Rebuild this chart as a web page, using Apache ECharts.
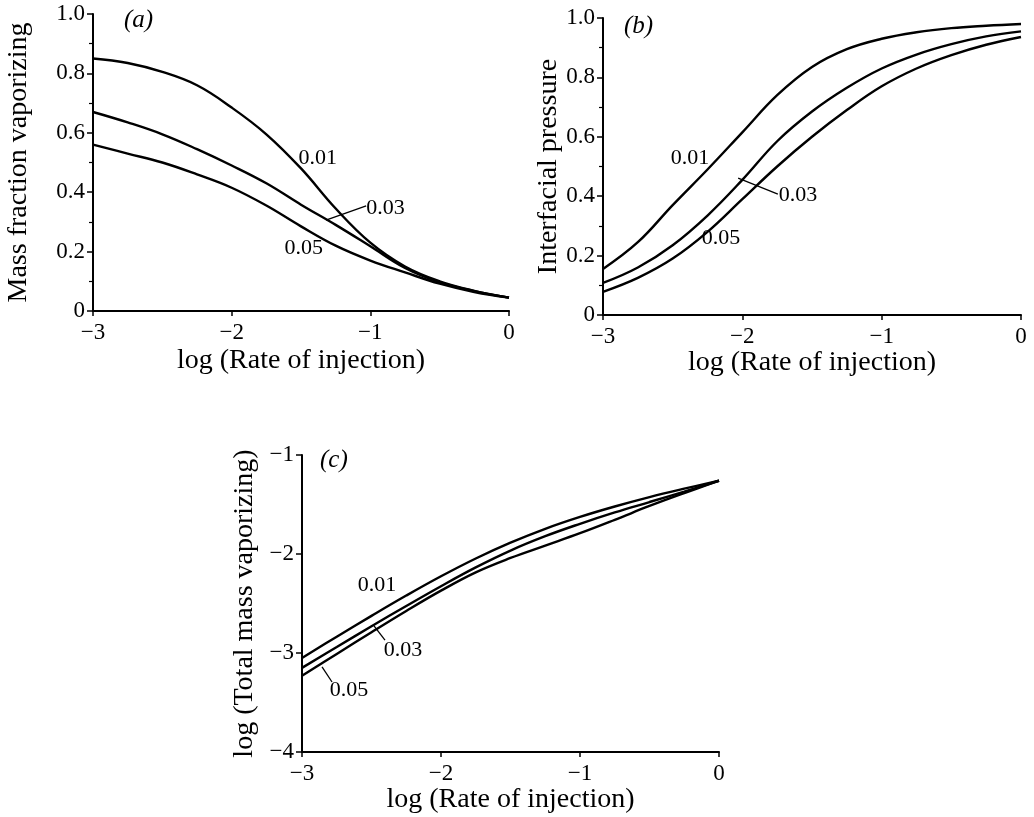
<!DOCTYPE html>
<html>
<head>
<meta charset="utf-8">
<script src="https://cdn.jsdelivr.net/npm/echarts@6/dist/echarts.min.js"></script>
<style>
html,body{margin:0;padding:0;background:#fff;}
#chart{width:1034px;height:817px;}
</style>
</head>
<body>
<div id="chart"></div>
<script>
// log(Rate of injection)
const xLog = [-3, -2.75, -2.5, -2.25, -2, -1.75, -1.5, -1.25, -1, -0.75, -0.5, -0.25, 0];

// (a) Mass fraction vaporizing
const a01 = [0.85, 0.835, 0.805, 0.76, 0.685, 0.595, 0.48, 0.345, 0.23, 0.15, 0.10, 0.068, 0.045];
const a03 = [0.67, 0.635, 0.595, 0.545, 0.49, 0.43, 0.358, 0.29, 0.218, 0.145, 0.097, 0.067, 0.045];
const a05 = [0.56, 0.53, 0.50, 0.46, 0.415, 0.355, 0.285, 0.22, 0.17, 0.13, 0.092, 0.064, 0.045];

// (b) Interfacial pressure
const b01 = [0.155, 0.245, 0.37, 0.49, 0.615, 0.74, 0.835, 0.895, 0.93, 0.952, 0.966, 0.974, 0.98];
const b03 = [0.108, 0.16, 0.235, 0.335, 0.455, 0.585, 0.685, 0.765, 0.83, 0.877, 0.912, 0.938, 0.955];
const b05 = [0.078, 0.125, 0.19, 0.28, 0.39, 0.50, 0.60, 0.69, 0.77, 0.83, 0.875, 0.91, 0.936];

// (c) log(Total mass vaporizing)
const c01 = [-3.05, -2.835, -2.625, -2.42, -2.225, -2.045, -1.885, -1.745, -1.625, -1.52, -1.425, -1.34, -1.26];
const c03 = [-3.15, -2.94, -2.73, -2.525, -2.325, -2.135, -1.965, -1.82, -1.695, -1.58, -1.475, -1.37, -1.26];
const c05 = [-3.23, -3.01, -2.79, -2.575, -2.37, -2.185, -2.04, -1.915, -1.79, -1.655, -1.515, -1.385, -1.26];

// curve parameter labels
const paramNames = ['0.01', '0.03', '0.05'];
const panelNames = ['(a)', '(b)', '(c)'];
const yNames = ['Mass fraction vaporizing', 'Interfacial pressure', 'log (Total mass vaporizing)'];
const xName = 'log (Rate of injection)';

// label anchors (data coords) and leader lines
const aLabelPos = [[-1.38, 0.515], [-0.89, 0.347], [-1.48, 0.212]];
const aLeader = [[-1.32, 0.306], [-1.03, 0.354]];
const bLabelPos = [[-2.376, 0.529], [-1.60, 0.404], [-2.154, 0.259]];
const bLeader = [[-2.03, 0.461], [-1.745, 0.407]];
const cLabelPos = [[-2.46, -2.313], [-2.273, -2.97], [-2.662, -3.374]];
const cLeaders = [[[-2.482, -2.727], [-2.403, -2.869]], [[-2.856, -3.141], [-2.784, -3.293]]];

const FONT = "'Liberation Serif', 'DejaVu Serif', serif";
const BLACK = '#000';

function pairs(ys) { return xLog.map((x, i) => [x, ys[i]]); }
function minusFmt(v) { return v < 0 ? '\u2212' + Math.abs(v) : String(v); }

function xAxisCfg(gi, gap) {
  return {
    gridIndex: gi, type: 'value', min: -3, max: 0, interval: 1,
    name: xName, nameLocation: 'middle', nameGap: gap,
    nameTextStyle: { color: BLACK, fontFamily: FONT, fontSize: 28 },
    axisLine: { onZero: false, lineStyle: { color: BLACK, width: 2 } },
    axisTick: { show: true, length: 5, lineStyle: { color: BLACK, width: 1.5 } },
    axisLabel: { color: BLACK, fontFamily: FONT, fontSize: 23, margin: 10, formatter: minusFmt },
    splitLine: { show: false }
  };
}
function yAxisCfg(gi, min, max, interval, name, gap, fmt, minor) {
  return {
    gridIndex: gi, type: 'value', min: min, max: max, interval: interval,
    name: name, nameLocation: 'middle', nameGap: gap, nameRotate: 90,
    nameTextStyle: { color: BLACK, fontFamily: FONT, fontSize: 28 },
    axisLine: { show: true, onZero: false, lineStyle: { color: BLACK, width: 2 } },
    axisTick: { show: true, length: 6, lineStyle: { color: BLACK, width: 1.5 } },
    minorTick: { show: minor, splitNumber: 2, length: 4, lineStyle: { color: BLACK, width: 1.2 } },
    axisLabel: { color: BLACK, fontFamily: FONT, fontSize: 23, margin: 8, formatter: fmt },
    splitLine: { show: false }, minorSplitLine: { show: false }
  };
}
const fracFmt = v => (v === 0 ? '0' : v.toFixed(1));

function labelMark(pos, text) {
  return {
    coord: pos, symbol: 'circle', symbolSize: 1,
    itemStyle: { color: 'rgba(0,0,0,0)' },
    label: { show: true, position: 'inside', formatter: text, color: BLACK, fontFamily: FONT, fontSize: 22 }
  };
}
function leader(seg) {
  return [{ coord: seg[0] }, { coord: seg[1] }];
}
function curve(gi, ys, labelPos, text, leaders) {
  const s = {
    type: 'line', xAxisIndex: gi, yAxisIndex: gi, data: pairs(ys),
    smooth: 0.4, showSymbol: false, silent: true,
    lineStyle: { color: BLACK, width: 2.4 },
    markPoint: { silent: true, animation: false, data: [labelMark(labelPos, text)] }
  };
  if (leaders && leaders.length) {
    s.markLine = {
      silent: true, animation: false, symbol: ['none', 'none'],
      label: { show: false },
      lineStyle: { color: BLACK, width: 1.3, type: 'solid' },
      data: leaders.map(leader)
    };
  }
  return s;
}

const titleStyle = { fontFamily: FONT, fontSize: 25, fontStyle: 'italic', fontWeight: 'normal', color: BLACK };
const option = {
  animation: false,
  backgroundColor: '#fff',
  title: [
    { text: panelNames[0], left: 119, top: 3, textStyle: titleStyle },
    { text: panelNames[1], left: 619, top: 9, textStyle: titleStyle },
    { text: panelNames[2], left: 315, top: 443, textStyle: titleStyle }
  ],
  grid: [
    { left: 93, top: 14, width: 416, height: 297 },
    { left: 603, top: 18, width: 418, height: 297 },
    { left: 302, top: 455, width: 417, height: 297 }
  ],
  xAxis: [xAxisCfg(0, 36), xAxisCfg(1, 29), xAxisCfg(2, 32)],
  yAxis: [
    yAxisCfg(0, 0, 1, 0.2, yNames[0], 60, fracFmt, true),
    yAxisCfg(1, 0, 1, 0.2, yNames[1], 40, fracFmt, true),
    yAxisCfg(2, -4, -1, 1, yNames[2], 43, minusFmt, false)
  ],
  series: [
    curve(0, a01, aLabelPos[0], paramNames[0]),
    curve(0, a03, aLabelPos[1], paramNames[1], [aLeader]),
    curve(0, a05, aLabelPos[2], paramNames[2]),
    curve(1, b01, bLabelPos[0], paramNames[0]),
    curve(1, b03, bLabelPos[1], paramNames[1], [bLeader]),
    curve(1, b05, bLabelPos[2], paramNames[2]),
    curve(2, c01, cLabelPos[0], paramNames[0]),
    curve(2, c03, cLabelPos[1], paramNames[1], [cLeaders[0]]),
    curve(2, c05, cLabelPos[2], paramNames[2], [cLeaders[1]])
  ]
};

const chart = echarts.init(document.getElementById('chart'), null, { renderer: 'canvas' });
chart.setOption(option);
</script>
</body>
</html>
